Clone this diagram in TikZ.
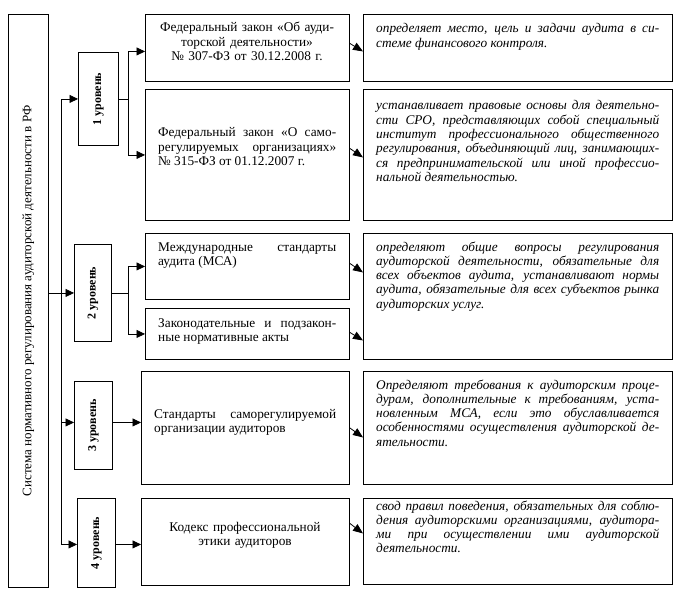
\documentclass[tikz,border=0pt]{standalone}
\usepackage{fontspec}
\setmainfont{Liberation Serif}
\usetikzlibrary{arrows.meta}
\begin{document}
\begin{tikzpicture}[x=1pt,y=-1pt,
  box/.style={draw, line width=0.9pt, inner sep=0pt, anchor=north west},
  arr/.style={line width=0.8pt, -{Triangle[length=8.5pt,width=8pt]}},
  darr/.style={line width=0.8pt, -{Triangle[length=10pt,width=8pt]}},
  ln/.style={line width=0.8pt},
  mid/.style={inner sep=0pt, font=\fontsize{13.3}{14.5}\selectfont},
  midj/.style={mid, align=justify, anchor=base west},
  midc/.style={mid, align=center, anchor=base, text width=205pt},
  desc/.style={inner sep=0pt, font=\fontsize{13.3}{14.3}\selectfont\itshape, text width=283pt, align=justify, anchor=base west},
  lvl/.style={font=\fontsize{12}{14}\selectfont\bfseries, rotate=90, inner sep=0pt}
]
\useasboundingbox (0,0) rectangle (679,596);
\tolerance=10000 \hbadness=10000
% boxes
\node[box, minimum width=40pt, minimum height=573pt] (sys) at (8,14) {};
\node[box, minimum width=40pt, minimum height=93pt] (L1) at (78,52) {};
\node[box, minimum width=37pt, minimum height=97pt] (L2) at (74,244) {};
\node[box, minimum width=38pt, minimum height=88pt] (L3) at (74,381) {};
\node[box, minimum width=38pt, minimum height=89pt] (L4) at (77,498) {};
\node[box, minimum width=204pt, minimum height=67pt] (A) at (145,14) {};
\node[box, minimum width=204pt, minimum height=131pt] (B) at (145,89) {};
\node[box, minimum width=204pt, minimum height=66pt] (C) at (145,233) {};
\node[box, minimum width=204pt, minimum height=51pt] (D) at (145,308) {};
\node[box, minimum width=208pt, minimum height=113pt] (E) at (141,371) {};
\node[box, minimum width=208pt, minimum height=87pt] (F) at (141,498) {};
\node[box, minimum width=309pt, minimum height=67pt] (R1) at (363,14) {};
\node[box, minimum width=309pt, minimum height=131pt] (R2) at (363,89) {};
\node[box, minimum width=309pt, minimum height=126pt] (R3) at (363,233) {};
\node[box, minimum width=309pt, minimum height=113pt] (R4) at (363,371) {};
\node[box, minimum width=309pt, minimum height=86pt] (R5) at (363,498) {};
% texts
\node[inner sep=0pt, font=\fontsize{13}{14.5}\selectfont, rotate=90] (tsys) at (sys) {Система нормативного регулирования аудиторской деятельности в РФ};
\node[lvl] (t1) at (L1) {1 уровень};
\node[lvl] (t2) at (L2) {2 уровень};
\node[lvl] (t3) at (L3) {3 уровень};
\node[lvl] (t4) at (L4) {4 уровень};
\node[midc] (tA) at (247,32) {Федеральный закон «Об ауди-\\торской деятельности»\\№ 307-ФЗ от 30.12.2008 г.};
\node[midj, text width=178pt] (tB) at (158,137) {Федеральный закон «О само-\linebreak регулируемых организациях»\linebreak № 315-ФЗ от 01.12.2007 г.};
\node[midj, text width=178pt] (tC) at (158,251) {Международные стандарты\linebreak аудита (МСА)};
\node[midj, text width=178pt] (tD) at (158,327) {Законодательные и подзакон-\linebreak ные нормативные акты};
\node[midj, text width=182pt] (tE) at (154,418) {Стандарты саморегулируемой\linebreak организации аудиторов};
\node[midc] (tF) at (245,531) {Кодекс профессиональной\\этики аудиторов};
\node[desc] (r1) at (376,33) {определяет место, цель и задачи аудита в си-\linebreak стеме финансового контроля.};
\node[desc] (r2) at (376,110) {устанавливает правовые основы для деятельно-\linebreak сти СРО, представляющих собой специальный\linebreak институт профессионального общественного\linebreak регулирования, объединяющий лиц, занимающих-\linebreak ся предпринимательской или иной профессио-\linebreak нальной деятельностью.};
\node[desc] (r3) at (376,251) {определяют общие вопросы регулирования\linebreak аудиторской деятельности, обязательные для\linebreak всех объектов аудита, устанавливают нормы\linebreak аудита, обязательные для всех субъектов рынка\linebreak аудиторских услуг.};
\node[desc] (r4) at (376,389) {Определяют требования к аудиторским проце-\linebreak дурам, дополнительные к требованиям, уста-\linebreak новленным МСА, если это обуславливается\linebreak особенностями осуществления аудиторской де-\linebreak ятельности.};
\node[desc] (r5) at (376,510) {свод правил поведения, обязательных для соблю-\linebreak дения аудиторскими организациями, аудитора-\linebreak ми при осуществлении ими аудиторской\linebreak деятельности.};
% connectors
\coordinate (sp) at (61,0);
\coordinate (br) at (128,0);
\coordinate (l3in) at ([yshift=3pt]L3.west);
\coordinate (l4in) at ([yshift=-1.5pt]L4.west);
\coordinate (ain) at ([yshift=-3.5pt]A.west);
\draw[ln] (sp |- l4in) -- (sp |- L1.west);
\draw[arr] (sp |- L1.west) -- (L1.west);
\draw[arr] (sys.east |- L2.west) -- (L2.west);
\draw[arr] (sp |- l3in) -- (l3in);
\draw[arr] (sp |- l4in) -- (l4in);
\draw[ln] (L1.east) -- (br |- L1.east);
\draw[arr] (br |- L1.east) |- (ain);
\draw[arr] (br |- L1.east) |- (B.west);
\draw[ln] (L2.east) -- (br |- L2.east);
\draw[arr] (br |- L2.east) |- (C.west);
\draw[arr] (br |- L2.east) |- (D.west);
\draw[arr] (l3in -| L3.east) -- (l3in -| E.west);
\draw[arr] (l4in -| L4.east) -- (l4in -| F.west);
\draw[darr] ([yshift=4.5pt]A.east) -- ([yshift=-3.5pt]R1.west);
\draw[darr] ([yshift=6.5pt]B.east) -- ([yshift=-2.5pt]R2.west);
\draw[darr] ([yshift=3pt]C.east) -- ([yshift=24pt]R3.west);
\draw[darr] ([yshift=1.5pt]D.east) -- ([yshift=-44pt]R3.west);
\draw[darr] (E.east) -- ([yshift=-9.5pt]R4.west);
\draw[darr] ([yshift=18.5pt]F.east) -- ([yshift=8pt]R5.west);
\end{tikzpicture}
\end{document}
